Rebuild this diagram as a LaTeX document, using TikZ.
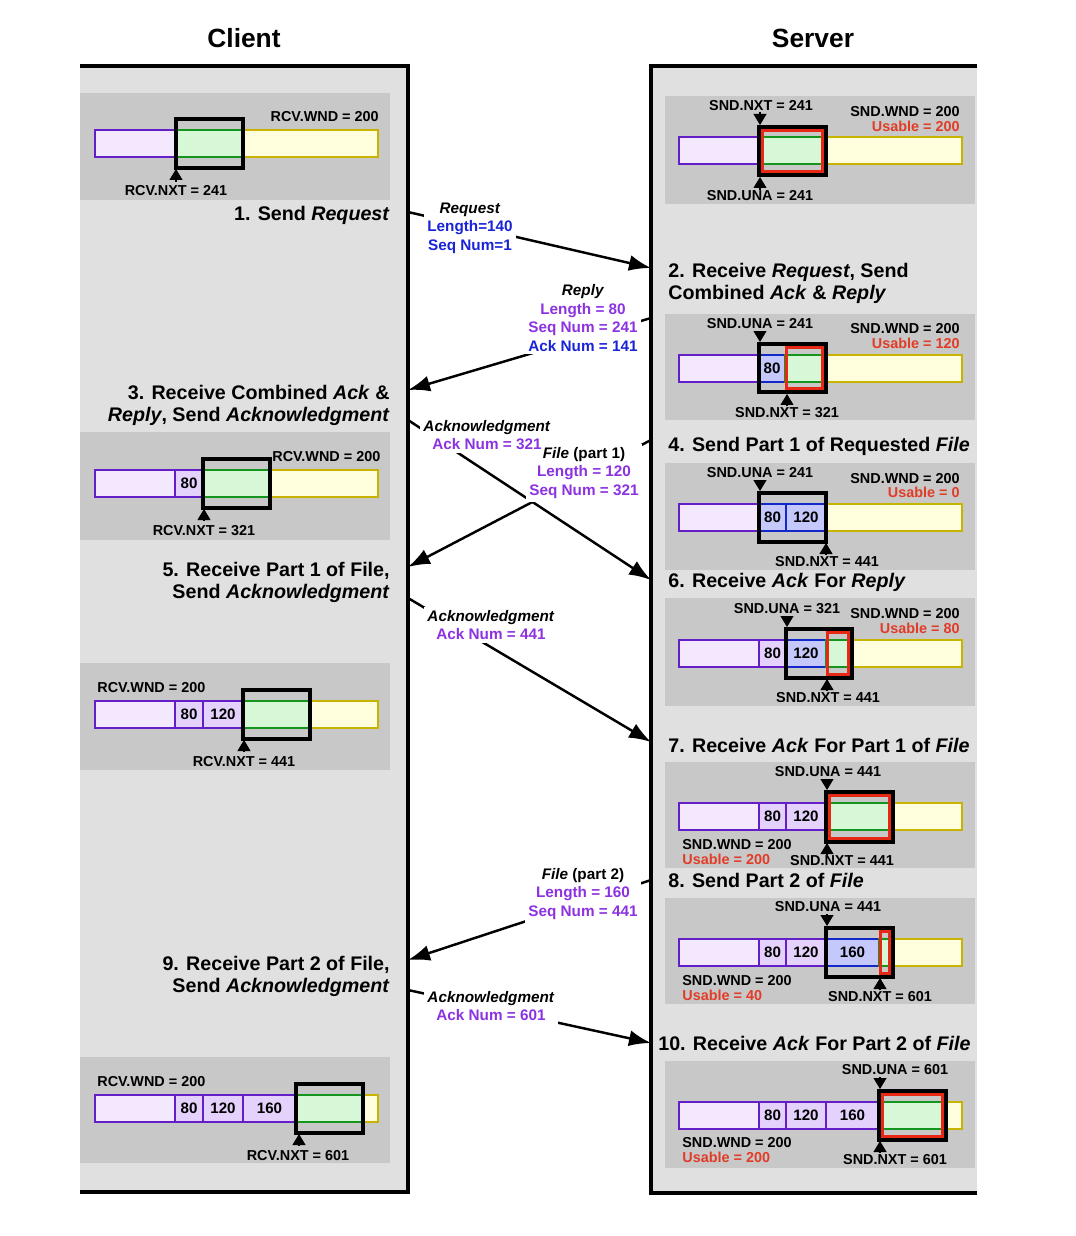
\documentclass[tikz,border=0pt]{standalone}
\usepackage{fontspec}
\setsansfont{Liberation Sans}
\usetikzlibrary{
  positioning,
  arrows.meta
}

\definecolor{panelgray}{RGB}{224,224,224}
\definecolor{bufgray}{RGB}{200,200,200}
\definecolor{ackfill}{RGB}{244,232,255}
\definecolor{ackcellfill}{RGB}{228,210,252}
\definecolor{ackline}{RGB}{100,30,200}
\definecolor{sentfill}{RGB}{196,200,250}
\definecolor{sentline}{RGB}{20,40,200}
\definecolor{usefill}{RGB}{214,248,214}
\definecolor{useline}{RGB}{20,150,30}
\definecolor{laterfill}{RGB}{255,255,222}
\definecolor{laterline}{RGB}{200,180,0}
\definecolor{usered}{RGB}{230,40,20}
\definecolor{usabletext}{RGB}{225,60,40}
\definecolor{txtblue}{RGB}{25,35,215}
\definecolor{txtpurple}{RGB}{140,50,225}

\pgfdeclarelayer{wires}
\pgfdeclarelayer{masks}
\pgfsetlayers{wires,masks,main}

\begin{document}
\begin{tikzpicture}[
  x=0.02cm, y=-0.02cm,
  every node/.style={font=\sffamily\bfseries},
  sidetitle/.style={font=\sffamily\bfseries\fontsize{15}{18}\selectfont},
  stepname/.style={font=\sffamily\bfseries\fontsize{11.2}{12.6}\selectfont, inner sep=0pt},
  msg/.style={align=center, inner sep=1.5pt, font=\sffamily\bfseries\fontsize{8.7}{10.5}\selectfont},
  ptr/.style={font=\sffamily\bfseries\fontsize{8.2}{9}\selectfont, inner sep=0pt},
  usable/.style={ptr, text=usabletext},
  cellnum/.style={font=\sffamily\bfseries\fontsize{8.6}{9}\selectfont, inner sep=0pt},
  panel/.style={fill=panelgray},
  bufbox/.style={fill=bufgray},
  acked/.style={draw=ackline, fill=ackfill, line width=1.6pt},
  ackcell/.style={acked, fill=ackcellfill},
  sent/.style={draw=sentline, fill=sentfill, line width=1.6pt},
  usewin/.style={draw=useline, fill=usefill, line width=1.6pt},
  later/.style={draw=laterline, fill=laterfill, line width=1.6pt},
  window/.style={draw=black, line width=2.5pt},
  usebox/.style={draw=usered, line width=1.8pt},
  pointer/.style={-{Triangle[length=0.22cm, width=0.26cm]}, line width=0.6pt},
  timeline/.style={line width=2pt},
  arrow/.style={line width=1.4pt, -{Latex[length=0.44cm, width=0.32cm]}}
]
\useasboundingbox (0,0) rectangle (1075,1236);

% Panels
\fill[panel] (80,66) rectangle (408,1192);
\fill[panel] (651,66) rectangle (977,1193);
\draw[timeline] (80,66) -- (408,66) -- (408,1192) -- (80,1192);
\draw[timeline] (977,66) -- (651,66) -- (651,1193) -- (977,1193);

\node[sidetitle] (client) at (244,38) {Client};
\node[sidetitle] (server) at (813,38) {Server};

% Buffer boxes
\fill[bufbox] (80,93) rectangle (390,200);
\fill[bufbox] (80,432) rectangle (390,540);
\fill[bufbox] (80,663) rectangle (390,770);
\fill[bufbox] (80,1057) rectangle (390,1163);
\fill[bufbox] (665,96) rectangle (975,204);
\fill[bufbox] (665,314) rectangle (975,420);
\fill[bufbox] (665,463) rectangle (975,570);
\fill[bufbox] (665,598) rectangle (975,706);
\fill[bufbox] (665,762) rectangle (975,868);
\fill[bufbox] (665,898) rectangle (975,1004);
\fill[bufbox] (665,1061) rectangle (975,1168);

% Client buffer 1
\draw[acked] (95,130) rectangle (176,157);
\draw[later] (243,130) rectangle (378,157);
\draw[usewin] (176,130) rectangle (243,157);
\draw[window] (176,119) rectangle (243,168);
\node[ptr, anchor=east] (rwnd1) at (379,117) {RCV.WND = 200};
\draw[pointer] (176,182) -- (176,169);
\node[ptr] (rnxt1) at (176,191) {RCV.NXT = 241};

% Client buffer 3
\draw[acked] (95,470) rectangle (175,497);
\draw[ackcell] (175,470) rectangle (203,497);
\node[cellnum] (c3a) at (189,483.5) {80};
\draw[later] (270,470) rectangle (378,497);
\draw[usewin] (203,470) rectangle (270,497);
\draw[window] (203,459) rectangle (270,508);
\node[ptr, anchor=west] (rwnd3) at (272,457) {RCV.WND = 200};
\draw[pointer] (204,521) -- (204,509);
\node[ptr] (rnxt3) at (204,531) {RCV.NXT = 321};

% Client buffer 5
\draw[acked] (95,701) rectangle (175,728);
\draw[ackcell] (175,701) rectangle (203,728);
\node[cellnum] (c5a) at (189,714.5) {80};
\draw[ackcell] (203,701) rectangle (243,728);
\node[cellnum] (c5b) at (223,714.5) {120};
\draw[later] (310,701) rectangle (378,728);
\draw[usewin] (243,701) rectangle (310,728);
\draw[window] (243,690) rectangle (310,739);
\node[ptr, anchor=west] (rwnd5) at (97,688) {RCV.WND = 200};
\draw[pointer] (244,752) -- (244,740);
\node[ptr] (rnxt5) at (244,762) {RCV.NXT = 441};

% Client buffer 9
\draw[acked] (95,1095) rectangle (175,1122);
\draw[ackcell] (175,1095) rectangle (203,1122);
\node[cellnum] (c9a) at (189,1108.5) {80};
\draw[ackcell] (203,1095) rectangle (243,1122);
\node[cellnum] (c9b) at (223,1108.5) {120};
\draw[ackcell] (243,1095) rectangle (296,1122);
\node[cellnum] (c9c) at (269.5,1108.5) {160};
\draw[later] (363,1095) rectangle (378,1122);
\draw[usewin] (296,1095) rectangle (363,1122);
\draw[window] (296,1084) rectangle (363,1133);
\node[ptr, anchor=west] (rwnd9) at (97,1082) {RCV.WND = 200};
\draw[pointer] (299,1146) -- (299,1134);
\node[ptr] (rnxt9) at (298,1156) {RCV.NXT = 601};

% Server buffer 1
\draw[acked] (679,137) rectangle (759,164);
\draw[later] (826,137) rectangle (962,164);
\draw[usewin] (759,137) rectangle (826,164);
\draw[usebox] (762.5,130.5) rectangle (822.5,171.5);
\draw[window] (759,127) rectangle (826,175);
\node[ptr] (snxt1) at (761,106) {SND.NXT = 241};
\draw[pointer] (760,112) -- (760,125);
\draw[pointer] (760,190) -- (760,177);
\node[ptr] (suna1) at (760,196) {SND.UNA = 241};
\node[ptr, anchor=east] (swnd1) at (960,112) {SND.WND = 200};
\node[usable, anchor=east] (suse1) at (960,126) {Usable = 200};

% Server buffer 2
\draw[acked] (679,355) rectangle (759,382);
\draw[sent] (759,355) rectangle (785,382);
\node[cellnum] (s2a) at (772,368.5) {80};
\draw[later] (826,355) rectangle (962,382);
\draw[usewin] (785,355) rectangle (826,382);
\draw[usebox] (786.5,347.5) rectangle (822.5,388.5);
\draw[window] (759,344) rectangle (826,392);
\node[ptr] (suna2) at (760,324) {SND.UNA = 241};
\draw[pointer] (760,331) -- (760,342);
\draw[pointer] (787,406) -- (787,394);
\node[ptr] (snxt2) at (787,413) {SND.NXT = 321};
\node[ptr, anchor=east] (swnd2) at (960,329) {SND.WND = 200};
\node[usable, anchor=east] (suse2) at (960,343) {Usable = 120};

% Server buffer 4
\draw[acked] (679,504) rectangle (759,531);
\draw[sent] (759,504) rectangle (786,531);
\node[cellnum] (s4a) at (772.5,517.5) {80};
\draw[sent] (786,504) rectangle (826,531);
\node[cellnum] (s4b) at (806,517.5) {120};
\draw[later] (826,504) rectangle (962,531);
\draw[window] (759,493) rectangle (826,542);
\node[ptr] (suna4) at (760,473) {SND.UNA = 241};
\draw[pointer] (760,480) -- (760,491);
\draw[pointer] (826,555) -- (826,543);
\node[ptr] (snxt4) at (827,562) {SND.NXT = 441};
\node[ptr, anchor=east] (swnd4) at (960,479) {SND.WND = 200};
\node[usable, anchor=east] (suse4) at (960,492) {Usable = 0};

% Server buffer 6
\draw[acked] (679,640) rectangle (759,667);
\draw[ackcell] (759,640) rectangle (786,667);
\node[cellnum] (s6a) at (772.5,653.5) {80};
\draw[sent] (786,640) rectangle (826,667);
\node[cellnum] (s6b) at (806,653.5) {120};
\draw[later] (852,640) rectangle (962,667);
\draw[usewin] (826,640) rectangle (852,667);
\draw[usebox] (827.5,632.5) rectangle (848.5,674.5);
\draw[window] (786,629) rectangle (852,678);
\node[ptr] (suna6) at (787,609) {SND.UNA = 321};
\draw[pointer] (787,616) -- (787,627);
\draw[pointer] (827,691) -- (827,679);
\node[ptr] (snxt6) at (828,698) {SND.NXT = 441};
\node[ptr, anchor=east] (swnd6) at (960,614) {SND.WND = 200};
\node[usable, anchor=east] (suse6) at (960,628) {Usable = 80};

% Server buffer 7
\draw[acked] (679,803) rectangle (759,830);
\draw[ackcell] (759,803) rectangle (786,830);
\node[cellnum] (s7a) at (772.5,816.5) {80};
\draw[ackcell] (786,803) rectangle (826,830);
\node[cellnum] (s7b) at (806,816.5) {120};
\draw[later] (893,803) rectangle (962,830);
\draw[usewin] (826,803) rectangle (893,830);
\draw[usebox] (829.5,795.5) rectangle (889.5,838.5);
\draw[window] (826,792) rectangle (893,842);
\node[ptr] (suna7) at (828,772) {SND.UNA = 441};
\draw[pointer] (827,779) -- (827,790);
\draw[pointer] (827,854) -- (827,843);
\node[ptr] (snxt7) at (842,861) {SND.NXT = 441};
\node[ptr, anchor=west] (swnd7) at (682,845) {SND.WND = 200};
\node[usable, anchor=west] (suse7) at (682,859) {Usable = 200};

% Server buffer 8
\draw[acked] (679,939) rectangle (759,966);
\draw[ackcell] (759,939) rectangle (786,966);
\node[cellnum] (s8a) at (772.5,952.5) {80};
\draw[ackcell] (786,939) rectangle (826,966);
\node[cellnum] (s8b) at (806,952.5) {120};
\draw[sent] (826,939) rectangle (879,966);
\node[cellnum] (s8c) at (852.5,952.5) {160};
\draw[later] (893,939) rectangle (962,966);
\draw[usewin] (879,939) rectangle (893,966);
\draw[usebox] (880.5,931.5) rectangle (889.5,973.5);
\draw[window] (826,928) rectangle (893,977);
\node[ptr] (suna8) at (828,907) {SND.UNA = 441};
\draw[pointer] (827,914) -- (827,926);
\draw[pointer] (880,990) -- (880,978);
\node[ptr] (snxt8) at (880,997) {SND.NXT = 601};
\node[ptr, anchor=west] (swnd8) at (682,981) {SND.WND = 200};
\node[usable, anchor=west] (suse8) at (682,995) {Usable = 40};

% Server buffer 10
\draw[acked] (679,1102) rectangle (759,1129);
\draw[ackcell] (759,1102) rectangle (786,1129);
\node[cellnum] (s10a) at (772.5,1115.5) {80};
\draw[ackcell] (786,1102) rectangle (826,1129);
\node[cellnum] (s10b) at (806,1115.5) {120};
\draw[ackcell] (826,1102) rectangle (879,1129);
\node[cellnum] (s10c) at (852.5,1115.5) {160};
\draw[later] (946,1102) rectangle (962,1129);
\draw[usewin] (879,1102) rectangle (946,1129);
\draw[usebox] (882.5,1094.5) rectangle (942.5,1136.5);
\draw[window] (879,1091) rectangle (946,1140);
\node[ptr] (suna10) at (895,1070) {SND.UNA = 601};
\draw[pointer] (880,1077) -- (880,1089);
\draw[pointer] (880,1153) -- (880,1141);
\node[ptr] (snxt10) at (895,1160) {SND.NXT = 601};
\node[ptr, anchor=west] (swnd10) at (682,1143) {SND.WND = 200};
\node[usable, anchor=west] (suse10) at (682,1157) {Usable = 200};

% Steps
\node[stepname, anchor=east] (step1) at (390,215) {1. Send \textit{Request}};
\node[stepname, anchor=west, align=left] (step2) at (668,283) {2. Receive \textit{Request}, Send\\Combined \textit{Ack} \& \textit{Reply}};
\node[stepname, anchor=east, align=right] (step3) at (390,405) {3. Receive Combined \textit{Ack} \&\\\textit{Reply}, Send \textit{Acknowledgment}};
\node[stepname, anchor=west] (step4) at (668,446) {4. Send Part 1 of Requested \textit{File}};
\node[stepname, anchor=east, align=right] (step5) at (390,582) {5. Receive Part 1 of File,\\Send \textit{Acknowledgment}};
\node[stepname, anchor=west] (step6) at (668,582) {6. Receive \textit{Ack} For \textit{Reply}};
\node[stepname, anchor=west] (step7) at (668,745) {7. Receive \textit{Ack} For Part 1 of \textit{File}};
\node[stepname, anchor=west] (step8) at (668,880) {8. Send Part 2 of \textit{File}};
\node[stepname, anchor=east, align=right] (step9) at (390,976) {9. Receive Part 2 of File,\\Send \textit{Acknowledgment}};
\node[stepname, anchor=west] (step10) at (658,1043) {10. Receive \textit{Ack} For Part 2 of \textit{File}};

% Messages
\node[msg] (mreq) at (470,228) {\textit{Request}\\\textcolor{txtblue}{Length=140}\\\textcolor{txtblue}{Seq Num=1}};
\node[msg] (mrep) at (583,318) {\textit{Reply}\\\textcolor{txtpurple}{Length = 80}\\\textcolor{txtpurple}{Seq Num = 241}\\\textcolor{txtblue}{Ack Num = 141}};
\node[msg] (mack1) at (487,435) {\textit{Acknowledgment}\\\textcolor{txtpurple}{Ack Num = 321}};
\node[msg] (mfile1) at (584,473) {\textit{File} (part 1)\\\textcolor{txtpurple}{Length = 120}\\\textcolor{txtpurple}{Seq Num = 321}};
\node[msg] (mack2) at (491,625) {\textit{Acknowledgment}\\\textcolor{txtpurple}{Ack Num = 441}};
\node[msg] (mfile2) at (583,894) {\textit{File} (part 2)\\\textcolor{txtpurple}{Length = 160}\\\textcolor{txtpurple}{Seq Num = 441}};
\node[msg] (mack3) at (491,1006) {\textit{Acknowledgment}\\\textcolor{txtpurple}{Ack Num = 601}};

\begin{pgfonlayer}{masks}
\fill[white] (mreq.south west) rectangle (mreq.north east);
\fill[white] (mrep.south west) rectangle (mrep.north east);
\fill[white] (mack1.south west) rectangle (mack1.north east);
\fill[white] (mfile1.south west) rectangle (mfile1.north east);
\fill[white] (mack2.south west) rectangle (mack2.north east);
\fill[white] (mfile2.south west) rectangle (mfile2.north east);
\fill[white] (mack3.south west) rectangle (mack3.north east);
\end{pgfonlayer}

% Arrows
\coordinate (cReq) at (408,212);
\coordinate (sReq) at (651,268);
\coordinate (sRep) at (651,318);
\coordinate (cRep) at (408,390);
\coordinate (cAck1) at (408,420);
\coordinate (sAck1) at (651,580);
\coordinate (sFile1) at (651,440);
\coordinate (cFile1) at (408,567);
\coordinate (cAck2) at (408,598);
\coordinate (sAck2) at (651,742);
\coordinate (sFile2) at (651,880);
\coordinate (cFile2) at (408,960);
\coordinate (cAck3) at (408,990);
\coordinate (sAck3) at (651,1043);

\begin{pgfonlayer}{wires}
\draw[arrow] (cReq) -- (sReq);
\draw[arrow] (sRep) -- (cRep);
\draw[arrow] (cAck1) -- (sAck1);
\draw[arrow] (sFile1) -- (cFile1);
\draw[arrow] (cAck2) -- (sAck2);
\draw[arrow] (sFile2) -- (cFile2);
\draw[arrow] (cAck3) -- (sAck3);
\end{pgfonlayer}

\end{tikzpicture}
\end{document}
